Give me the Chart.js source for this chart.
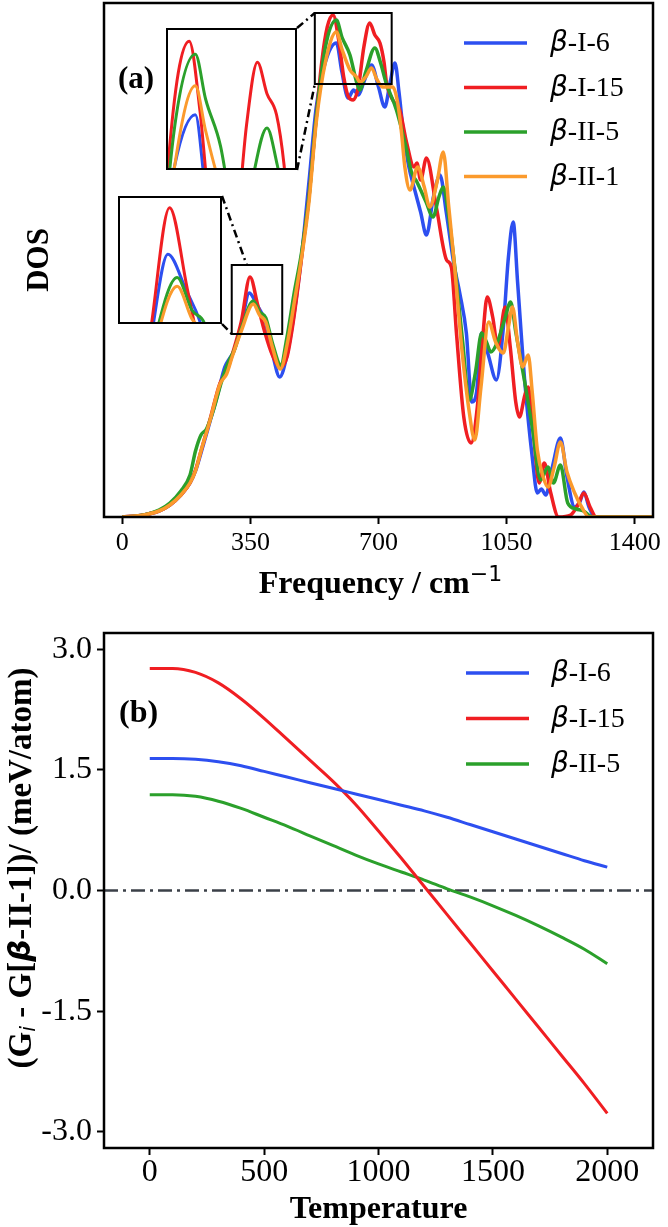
<!DOCTYPE html>
<html lang="en">
<head>
<meta charset="UTF-8" />
<title>Phonon DOS and free energy</title>
<script src="https://cdn.jsdelivr.net/npm/chart.js"></script>
<style>
  body { margin: 0; background: #fff; }
  #wrap { position: relative; width: 668px; height: 1227px; background: #fff; }
  canvas { position: absolute; left: 0; }
  #dosChart { top: 0; }
  #gChart { top: 605px; }
  .inset { background: #fff; }
</style>
</head>
<body>
<div id="wrap">
  <canvas id="dosChart" width="668" height="605"></canvas>
  <canvas id="gChart" width="668" height="622"></canvas>
  <canvas id="insetTop" class="inset"></canvas>
  <canvas id="insetLow" class="inset"></canvas>
</div>

<script>
  // ---- panel (a): phonon DOS ----
  const freqI6 = [0, 50, 100, 130, 160, 185, 200, 215, 240, 260, 280, 292, 305, 325, 347, 368, 390, 410, 430, 450, 470, 490, 510, 530, 555, 585, 600, 617, 632, 645, 660, 681, 700, 717, 732, 745, 756, 768, 783, 799, 815, 831, 850, 868, 885, 905, 922, 940, 955, 968, 982, 1000, 1022, 1040, 1055, 1068, 1080, 1100, 1120, 1134, 1145, 1157, 1175, 1197, 1215, 1236, 1250, 1261, 1275, 1292, 1350, 1450];
  const dosI6 = [0, 0.015, 0.06, 0.12, 0.22, 0.34, 0.46, 0.64, 0.96, 1.22, 1.50, 1.58, 1.66, 1.92, 2.24, 2.12, 1.96, 1.64, 1.40, 1.62, 2.05, 2.62, 3.35, 4.10, 4.55, 4.74, 4.45, 4.19, 4.27, 4.22, 4.35, 4.52, 4.30, 4.10, 4.35, 4.54, 4.25, 3.85, 3.50, 3.27, 3.05, 2.82, 3.20, 3.42, 3.05, 2.55, 2.24, 1.84, 1.15, 1.25, 1.84, 1.62, 1.37, 1.85, 2.60, 2.95, 2.35, 1.34, 0.60, 0.24, 0.28, 0.22, 0.50, 0.79, 0.40, 0.10, 0.15, 0.25, 0.10, 0, 0, 0];

  const freqI15 = [0, 50, 100, 130, 160, 185, 200, 215, 240, 267, 285, 300, 325, 349, 370, 390, 410, 432, 450, 465, 480, 495, 510, 525, 545, 560, 576, 592, 605, 618, 631, 645, 660, 676, 690, 704, 715, 722, 739, 758, 777, 797, 805, 815, 831, 858, 886, 899, 913, 933, 953, 970, 985, 997, 1012, 1026, 1046, 1060, 1075, 1085, 1100, 1109, 1122, 1139, 1153, 1170, 1192, 1225, 1245, 1261, 1278, 1295, 1350, 1450];
  const dosI15 = [0, 0.015, 0.06, 0.12, 0.22, 0.34, 0.47, 0.66, 0.98, 1.34, 1.45, 1.62, 1.95, 2.40, 2.12, 1.84, 1.62, 1.50, 1.60, 1.90, 2.30, 2.75, 3.20, 3.80, 4.55, 4.90, 5.02, 4.75, 4.40, 4.20, 4.17, 4.30, 4.70, 4.94, 4.82, 4.74, 4.55, 4.34, 4.17, 4.07, 3.74, 3.50, 3.54, 3.37, 3.59, 3.10, 2.57, 2.50, 1.84, 1.00, 0.74, 1.10, 1.80, 2.20, 2.00, 1.70, 2.10, 1.70, 1.15, 1.00, 1.22, 1.30, 0.90, 0.34, 0.54, 0.25, 0.0, 0.02, 0.12, 0.24, 0.10, 0, 0, 0];

  const freqII5 = [0, 50, 100, 130, 160, 185, 200, 215, 230, 250, 270, 290, 305, 325, 358, 375, 392, 410, 433, 450, 470, 490, 510, 530, 555, 585, 600, 622, 640, 649, 665, 690, 705, 720, 749, 775, 790, 805, 830, 849, 865, 877, 892, 910, 930, 948, 965, 982, 995, 1007, 1025, 1045, 1061, 1075, 1100, 1120, 1143, 1163, 1178, 1197, 1217, 1240, 1260, 1285, 1350, 1450];
  const dosII5 = [0, 0.015, 0.07, 0.14, 0.26, 0.42, 0.66, 0.82, 0.88, 1.08, 1.34, 1.55, 1.66, 1.88, 2.16, 2.05, 1.99, 1.74, 1.52, 1.80, 2.25, 2.65, 3.20, 4.00, 4.70, 4.97, 4.80, 4.62, 4.35, 4.27, 4.45, 4.69, 4.55, 4.35, 4.07, 3.70, 3.45, 3.35, 3.15, 3.00, 3.20, 3.30, 3.00, 2.45, 1.75, 1.17, 1.45, 1.84, 1.75, 1.65, 1.75, 1.98, 2.15, 1.85, 1.34, 0.90, 0.37, 0.50, 0.34, 0.52, 0.14, 0.08, 0.06, 0, 0, 0];

  const freqII1 = [0, 50, 100, 130, 160, 185, 200, 215, 240, 267, 285, 300, 325, 358, 375, 392, 410, 432, 450, 470, 490, 510, 530, 555, 585, 600, 622, 640, 649, 665, 681, 695, 712, 739, 752, 763, 772, 786, 807, 825, 840, 860, 877, 892, 908, 928, 948, 963, 980, 1001, 1020, 1041, 1055, 1066, 1080, 1094, 1109, 1120, 1134, 1150, 1163, 1180, 1197, 1215, 1236, 1255, 1275, 1350, 1450];
  const dosII1 = [0, 0.015, 0.06, 0.12, 0.22, 0.34, 0.46, 0.66, 0.97, 1.33, 1.43, 1.60, 1.86, 2.13, 2.02, 1.95, 1.70, 1.48, 1.72, 2.15, 2.60, 3.15, 3.95, 4.55, 4.85, 4.68, 4.47, 4.40, 4.35, 4.40, 4.49, 4.38, 4.30, 4.30, 4.15, 3.84, 3.50, 3.27, 3.50, 3.30, 3.10, 3.35, 3.65, 3.10, 2.50, 1.67, 1.05, 0.77, 1.30, 1.95, 1.75, 1.64, 1.90, 2.10, 1.75, 1.50, 1.62, 1.25, 0.67, 0.40, 0.30, 0.50, 0.75, 0.45, 0.24, 0.10, 0, 0, 0];

  const xTicksDos = [0, 350, 700, 1050, 1400];
  // zoomed regions in data units: [xMin, xMax, yMin, yMax]
  const boxTop = [526, 736, 4.33, 5.04];
  const boxLow = [299, 437, 1.83, 2.52];
  const insetTopRange = [542, 734, 4.53, 5.07];
  const insetLowRange = [288, 411, 2.0, 2.44];

  // ---- panel (b): free energy difference ----
  const temps = [0, 100, 200, 300, 400, 500, 600, 700, 800, 900, 1000, 1100, 1200, 1300, 1400, 1500, 1600, 1700, 1800, 1900, 2000];
  const gI6 = [1.64, 1.64, 1.63, 1.60, 1.55, 1.48, 1.41, 1.34, 1.27, 1.20, 1.13, 1.06, 0.99, 0.91, 0.82, 0.73, 0.64, 0.55, 0.46, 0.37, 0.29];
  const gI15 = [2.76, 2.76, 2.71, 2.58, 2.38, 2.14, 1.88, 1.62, 1.36, 1.07, 0.74, 0.40, 0.05, -0.30, -0.65, -1.00, -1.35, -1.70, -2.05, -2.40, -2.77];
  const gII5 = [1.19, 1.19, 1.17, 1.11, 1.02, 0.91, 0.80, 0.68, 0.56, 0.44, 0.33, 0.23, 0.13, 0.02, -0.08, -0.19, -0.31, -0.44, -0.58, -0.73, -0.91];
  const xTicksG = [0, 500, 1000, 1500, 2000];
  const yTicksG = [-3, -1.5, 0, 1.5, 3];

  const BLUE = '#2d4ff0', RED = '#f01e22', GREEN = '#2ba02b', ORANGE = '#fb9a2c';
  const SERIF = '"Liberation Serif", "Times New Roman", serif';
  const SANS = '"DejaVu Sans", sans-serif';

  const dosSeries = [
    { label: 'β-I-6', color: BLUE, freq: freqI6, dos: dosI6 },
    { label: 'β-I-15', color: RED, freq: freqI15, dos: dosI15 },
    { label: 'β-II-5', color: GREEN, freq: freqII5, dos: dosII5 },
    { label: 'β-II-1', color: ORANGE, freq: freqII1, dos: dosII1 }
  ];
  const gSeries = [
    { label: 'β-I-6', color: BLUE, g: gI6 },
    { label: 'β-I-15', color: RED, g: gI15 },
    { label: 'β-II-5', color: GREEN, g: gII5 }
  ];

  Chart.defaults.color = '#000';
  Chart.defaults.font.family = SERIF;

  function dosDatasets(width) {
    return dosSeries.map((s, i) => ({
      label: s.label,
      data: s.freq.map((f, k) => ({ x: f, y: s.dos[k] })),
      borderColor: s.color,
      borderWidth: width,
      pointRadius: 0,
      fill: false,
      cubicInterpolationMode: 'monotone',
      order: dosSeries.length - i   // β-II-1 drawn on top
    }));
  }

  // mixed-font text: italic β, then serif rest
  function drawRich(ctx, parts, x, y, centered) {
    ctx.textBaseline = 'middle';
    ctx.textAlign = 'left';
    let w = 0;
    parts.forEach(p => { ctx.font = p.font; w += ctx.measureText(p.text).width; });
    let cx = centered ? x - w / 2 : x;
    parts.forEach(p => {
      ctx.font = p.font;
      ctx.fillText(p.text, cx, y + (p.dy || 0));
      cx += ctx.measureText(p.text).width;
    });
  }

  function drawLegend(ctx, items, lineX, textX, y0, step) {
    items.forEach((s, i) => {
      const y = y0 + i * step;
      ctx.strokeStyle = s.color;
      ctx.lineWidth = 3.5;
      ctx.beginPath();
      ctx.moveTo(lineX, y);
      ctx.lineTo(lineX + 63, y);
      ctx.stroke();
      ctx.fillStyle = '#000';
      drawRich(ctx, [
        { text: s.label[0], font: `italic 28px ${SANS}` },
        { text: s.label.slice(1), font: `28px ${SERIF}` }
      ], textX, y + 1, false);
    });
  }

  function frame(ctx, a, w) {
    ctx.strokeStyle = '#000';
    ctx.lineWidth = w;
    ctx.strokeRect(a.left, a.top, a.right - a.left, a.bottom - a.top);
  }

  const insetTopPos = { left: 166, top: 28, w: 131, h: 142 };
  const insetLowPos = { left: 118, top: 196, w: 104, h: 128 };

  const dosDecor = {
    id: 'dosDecor',
    afterDraw(chart) {
      const { ctx, chartArea, scales: { x, y } } = chart;
      ctx.save();
      frame(ctx, chartArea, 2.5);

      const rect = b => ({
        l: x.getPixelForValue(b[0]), r: x.getPixelForValue(b[1]),
        t: y.getPixelForValue(b[3]), b: y.getPixelForValue(b[2])
      });
      const up = rect(boxTop), lo = rect(boxLow);
      ctx.lineWidth = 2;
      [up, lo].forEach(r => ctx.strokeRect(r.l, r.t, r.r - r.l, r.b - r.t));

      // dash-dot connectors from the insets to the zoomed boxes
      const tR = insetTopPos.left + insetTopPos.w, lR = insetLowPos.left + insetLowPos.w;
      const links = [
        [tR, insetTopPos.top, up.l, up.t],
        [tR, insetTopPos.top + insetTopPos.h, up.l, up.b],
        [lR, insetLowPos.top, x.getPixelForValue(340), lo.t],
        [lR, insetLowPos.top + insetLowPos.h, lo.l, lo.b]
      ];
      ctx.setLineDash([8, 4, 2, 4]);
      ctx.lineWidth = 2.5;
      links.forEach(p => {
        ctx.beginPath(); ctx.moveTo(p[0], p[1]); ctx.lineTo(p[2], p[3]); ctx.stroke();
      });
      ctx.setLineDash([]);

      drawLegend(ctx, dosSeries, 464, 550, 43, 44.5);
      ctx.fillStyle = '#000';
      drawRich(ctx, [{ text: '(a)', font: `bold 31px ${SERIF}` }], 118, 80, false);

      // x title with a real superscript
      drawRich(ctx, [
        { text: 'Frequency / cm', font: `bold 32px ${SERIF}` },
        { text: '−1', font: `22px ${SANS}`, dy: -10 }
      ], (chartArea.left + chartArea.right) / 2 + 2, 585, true);
      ctx.restore();
    }
  };

  new Chart(document.getElementById('dosChart'), {
    type: 'line',
    data: { datasets: dosDatasets(3.5) },
    options: {
      responsive: false,
      animation: false,
      events: [],
      layout: { padding: { left: 0, right: 15, top: 3, bottom: 0 } },
      plugins: { legend: { display: false }, tooltip: { enabled: false } },
      scales: {
        x: {
          type: 'linear', min: -50, max: 1450,
          afterBuildTicks: s => { s.ticks = xTicksDos.map(v => ({ value: v })); },
          afterFit: s => { s.height = 88; },
          border: { display: false },
          grid: { drawOnChartArea: false, tickLength: 7, tickWidth: 2, tickColor: '#000' },
          ticks: { font: { family: SERIF, size: 26, lineHeight: 1 }, padding: 6, maxRotation: 0, callback: v => String(v) }
        },
        y: {
          min: 0, max: 5.14,
          afterFit: s => { s.width = 104; },
          border: { display: false },
          grid: { display: false },
          ticks: { display: false },
          title: { display: true, text: 'DOS', font: { family: SERIF, size: 31, weight: 'bold', lineHeight: 1 }, padding: { top: 24, bottom: 0 } }
        }
      }
    },
    plugins: [dosDecor]
  });

  const insetFrame = {
    id: 'insetFrame',
    afterDraw(chart) {
      const { ctx, width, height } = chart;
      ctx.save();
      ctx.strokeStyle = '#000';
      ctx.lineWidth = 2;
      ctx.strokeRect(1, 1, width - 2, height - 2);
      ctx.restore();
    }
  };

  function makeInset(id, pos, range) {
    const cv = document.getElementById(id);
    cv.width = pos.w;
    cv.height = pos.h;
    cv.style.left = pos.left + 'px';
    cv.style.top = pos.top + 'px';
    new Chart(cv, {
      type: 'line',
      data: { datasets: dosDatasets(3) },
      options: {
        responsive: false,
        animation: false,
        events: [],
        layout: { padding: 0 },
        plugins: { legend: { display: false }, tooltip: { enabled: false } },
        scales: {
          x: { type: 'linear', display: false, min: range[0], max: range[1] },
          y: { display: false, min: range[2], max: range[3] }
        }
      },
      plugins: [insetFrame]
    });
  }
  makeInset('insetTop', insetTopPos, insetTopRange);
  makeInset('insetLow', insetLowPos, insetLowRange);

  // ---- panel (b) ----
  const gDecor = {
    id: 'gDecor',
    afterDraw(chart) {
      const { ctx, chartArea } = chart;
      ctx.save();
      frame(ctx, chartArea, 2.5);
      drawLegend(ctx, gSeries, 466, 551, 68, 45.5);
      ctx.fillStyle = '#000';
      drawRich(ctx, [{ text: '(b)', font: `bold 32px ${SERIF}` }], 119, 109, false);

      // y-axis title with italic subscript and β
      const bold = `bold 33px ${SERIF}`;
      ctx.translate(22, 263);
      ctx.rotate(-Math.PI / 2);
      drawRich(ctx, [
        { text: '(G', font: bold },
        { text: 'i', font: `italic 21px ${SANS}`, dy: 8 },
        { text: ' - G[', font: bold },
        { text: 'β', font: `bold italic 31px ${SANS}` },
        { text: '-II-1])/ (meV/atom)', font: bold }
      ], 0, 0, true);
      ctx.restore();
    }
  };

  const gDatasets = gSeries.map(s => ({
    label: s.label,
    data: temps.map((t, k) => ({ x: t, y: s.g[k] })),
    borderColor: s.color,
    borderWidth: 3,
    pointRadius: 0,
    fill: false,
    cubicInterpolationMode: 'monotone'
  }));
  gDatasets.push({
    label: 'zero',
    data: [{ x: -200, y: 0 }, { x: 2200, y: 0 }],
    borderColor: '#3b4048',
    borderWidth: 2.5,
    borderDash: [14, 5, 3, 5],
    pointRadius: 0,
    fill: false,
    order: 5
  });

  new Chart(document.getElementById('gChart'), {
    type: 'line',
    data: { datasets: gDatasets },
    options: {
      responsive: false,
      animation: false,
      events: [],
      layout: { padding: { left: 0, right: 15, top: 28, bottom: 0 } },
      plugins: { legend: { display: false }, tooltip: { enabled: false } },
      scales: {
        x: {
          type: 'linear', min: -200, max: 2200,
          afterBuildTicks: s => { s.ticks = xTicksG.map(v => ({ value: v })); },
          afterFit: s => { s.height = 79; },
          border: { display: false },
          grid: { drawOnChartArea: false, tickLength: 7, tickWidth: 2, tickColor: '#000' },
          ticks: { font: { family: SERIF, size: 32, lineHeight: 1 }, padding: 2, maxRotation: 0, callback: v => String(v) },
          title: { display: true, text: 'Temperature', font: { family: SERIF, size: 32, weight: 'bold', lineHeight: 1 }, padding: { top: 0, bottom: 1 } }
        },
        y: {
          min: -3.2, max: 3.2,
          afterBuildTicks: s => { s.ticks = yTicksG.map(v => ({ value: v })); },
          afterFit: s => { s.width = 104; },
          border: { display: false },
          grid: { drawOnChartArea: false, tickLength: 7, tickWidth: 2, tickColor: '#000' },
          ticks: { font: { family: SERIF, size: 32, lineHeight: 1 }, padding: 5, callback: v => v.toFixed(1) }
        }
      }
    },
    plugins: [gDecor]
  });
</script>
</body>
</html>
